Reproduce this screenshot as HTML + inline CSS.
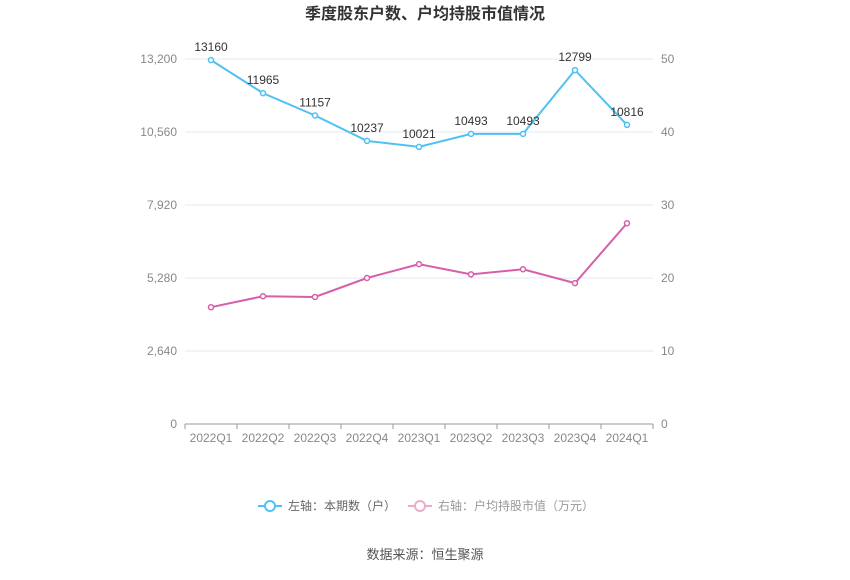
<!DOCTYPE html>
<html><head><meta charset="utf-8"><style>
body{margin:0;background:#fff;font-family:"Liberation Sans","Noto Sans CJK SC",sans-serif;}
svg text{font-family:"Liberation Sans","Noto Sans CJK SC",sans-serif;}
</style></head><body>
<svg id="c" width="850" height="575" xmlns="http://www.w3.org/2000/svg">
<text x="425" y="19" text-anchor="middle" font-size="16" font-weight="bold" fill="#333">季度股东户数、户均持股市值情况</text>
<g id="grid"></g><g id="axes"></g><g id="series"></g>
<g>
<g>
<line x1="258" y1="506" x2="282" y2="506" stroke="#4fc1f2" stroke-width="2"/>
<circle cx="270" cy="506" r="5" fill="#fff" stroke="#4fc1f2" stroke-width="2"/>
<text x="288" y="510" font-size="12" fill="#666">左轴：本期数（户）</text></g>
<g>
<line x1="408" y1="506" x2="432" y2="506" stroke="#eeaacc" stroke-width="2"/>
<circle cx="420" cy="506" r="5" fill="#fff" stroke="#eeaacc" stroke-width="2"/>
<text x="438" y="510" font-size="12" fill="#999">右轴：户均持股市值（万元）</text></g>
</g>
<text x="425" y="559" text-anchor="middle" font-size="13" fill="#555">数据来源：恒生聚源</text>
</svg>
<script>
const categories=["2022Q1","2022Q2","2022Q3","2022Q4","2023Q1","2023Q2","2023Q3","2023Q4","2024Q1"];
const holders=[13160,11965,11157,10237,10021,10493,10493,12799,10816];
const avgValue=[16.0,17.5,17.4,20.0,21.9,20.5,21.2,19.3,27.5];
const leftTicks=[0,2640,5280,7920,10560,13200];
const rightTicks=[0,10,20,30,40,50];
const NS="http://www.w3.org/2000/svg";
const X0=185,X1=653,Y0=424,Y1=59;
const bw=(X1-X0)/categories.length;
const xs=i=>X0+bw*(i+0.5);
const yL=v=>Y0-(v/13200)*(Y0-Y1);
const yR=v=>Y0-(v/50)*(Y0-Y1);
function mk(tag,attrs,parent){const e=document.createElementNS(NS,tag);for(const k in attrs)e.setAttribute(k,attrs[k]);parent.appendChild(e);return e;}
const grid=document.getElementById('grid'),axes=document.getElementById('axes'),ser=document.getElementById('series');
leftTicks.forEach((t,i)=>{
 const y=yL(t);
 if(t>0){const g=mk('line',{x1:X0,x2:X1,y1:y,y2:y,stroke:'#e3e8f0'},grid);
 
 }
 const tx=mk('text',{x:X0-8,y:y+4,'text-anchor':'end','font-size':12,fill:'#888'},axes);tx.textContent=t.toLocaleString('en-US');
 
 
});
rightTicks.forEach(t=>{
 const tx=mk('text',{x:X1+8,y:yR(t)+4,'font-size':12,fill:'#888'},axes);tx.textContent=t;
 
 
});
const ax=mk('line',{x1:X0,x2:X1,y1:Y0,y2:Y0,stroke:'#999'},axes);


categories.forEach((c,i)=>{
 for(const x of [X0+bw*i]){mk('line',{x1:x,x2:x,y1:Y0,y2:Y0+5,stroke:'#999'},axes);}
 const tx=mk('text',{x:xs(i),y:Y0+18,'text-anchor':'middle','font-size':12,fill:'#888'},axes);tx.textContent=c;
 
 
});
mk('line',{x1:X1,x2:X1,y1:Y0,y2:Y0+5,stroke:'#999'},axes);
function line(vals,fy,color,name,labels){
 const p=mk('polyline',{points:vals.map((v,i)=>xs(i)+','+fy(v)).join(' '),fill:'none',stroke:color,'stroke-width':2},ser);
 
 
 vals.forEach((v,i)=>{
  const c=mk('circle',{cx:xs(i),cy:fy(v),r:2.5,fill:'#fff',stroke:color,'stroke-width':1.5},ser);
  
  
  if(labels){const t=mk('text',{x:xs(i),y:fy(v)-9,'text-anchor':'middle','font-size':12,fill:'#333'},ser);t.textContent=v;
  
  }
 });
}
line(holders,yL,'#4fc1f2','holders',true);
line(avgValue,yR,'#d65fa8','avg-value',false);
</script>
</body></html>
